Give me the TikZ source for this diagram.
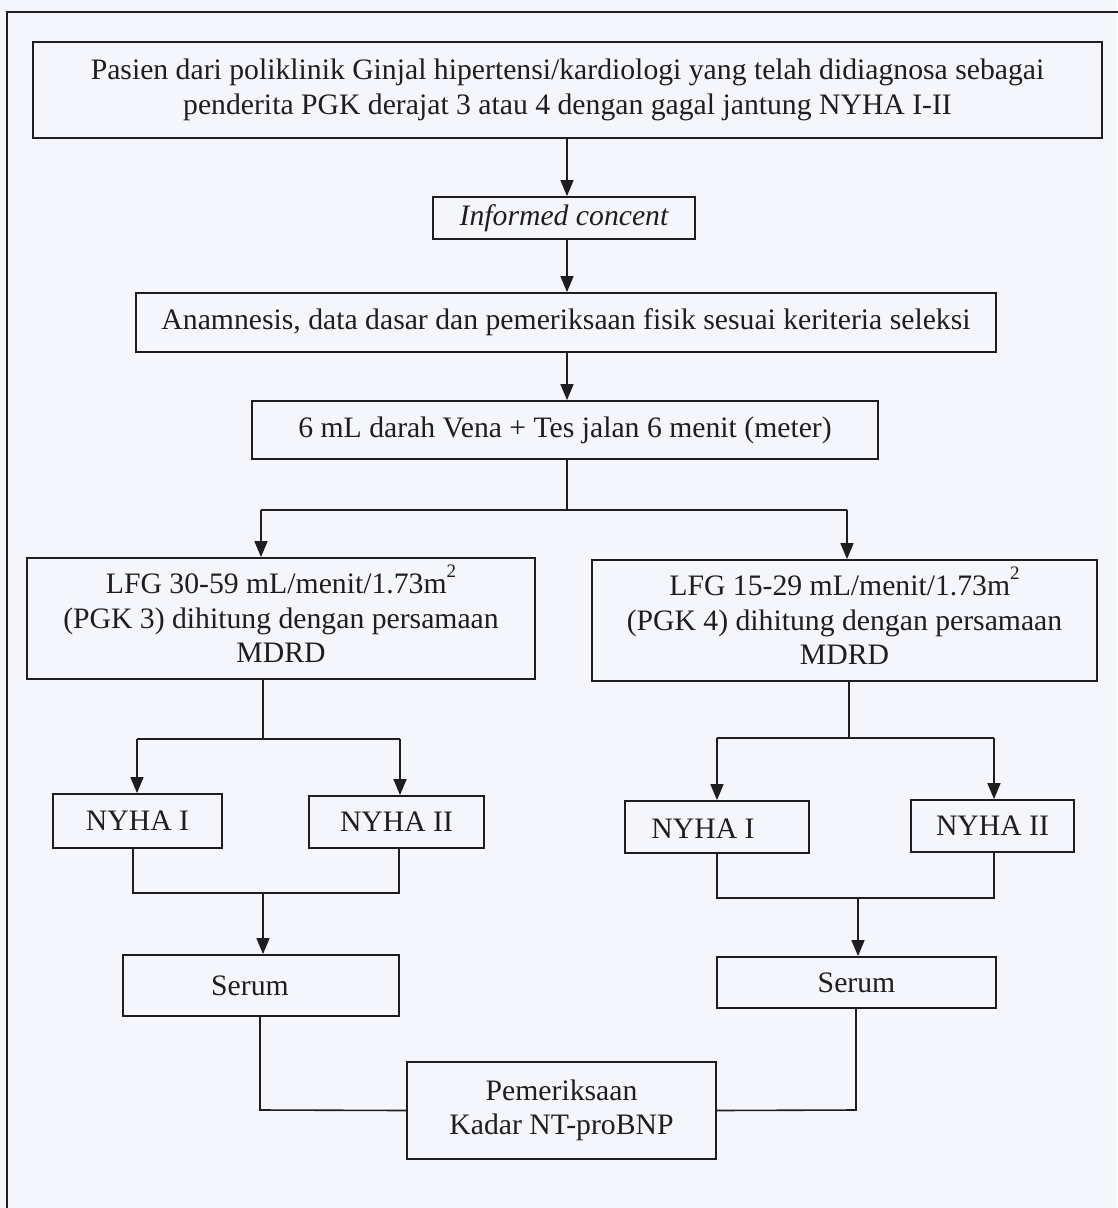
\documentclass[tikz,border=0pt]{standalone}
\usepackage{fontspec}
\setmainfont{Liberation Serif}
\usetikzlibrary{arrows.meta}
\definecolor{paper}{HTML}{F4F6FB}
\definecolor{ink}{HTML}{1E1E1E}
\newcommand{\sqm}{m\smash{\raisebox{0.55em}{\fontsize{19}{19}\selectfont 2}}}
\tikzset{
  box/.style={draw=ink, line width=1.8pt, inner sep=0pt, align=center, text=ink,
    font=\fontsize{29.7}{34.5}\selectfont},
  label text/.style={text=ink, font=\fontsize{29.7}{34.5}\selectfont},
  link/.style={draw=ink, line width=1.6pt},
  arr/.style={link, -{Triangle[length=16pt,width=13pt]}},
}
\begin{document}
\begin{tikzpicture}[x=1pt,y=-1pt]
\useasboundingbox (0,0) rectangle (1117,1208);
\fill[paper] (0,0) rectangle (1117,1208);
% page frame
\draw[ink, line width=2.2pt] (7,1210) -- (7,12) -- (1119,12);

% boxes
\node[box, minimum width=1069pt, minimum height=96pt] (b1) at (567.5,90)
  {Pasien dari poliklinik Ginjal hipertensi/kardiologi yang telah didiagnosa sebagai\\
   penderita PGK derajat 3 atau 4 dengan gagal jantung NYHA I-II};
\node[box, minimum width=262pt, minimum height=42pt] (ic) at (564,218) {\itshape Informed concent};
\node[box, minimum width=860pt, minimum height=59pt] (an) at (566,322.5)
  {Anamnesis, data dasar dan pemeriksaan fisik sesuai keriteria seleksi};
\node[box, minimum width=626pt, minimum height=58pt] (ml) at (565,430)
  {6 mL darah Vena + Tes jalan 6 menit (meter)};
\node[box, minimum width=508pt, minimum height=121pt] (lfgL) at (281,618.5)
  {LFG 30-59 mL/menit/1.73\sqm\\(PGK 3) dihitung dengan persamaan\\MDRD};
\node[box, minimum width=505pt, minimum height=121pt] (lfgR) at (844.5,620.5)
  {LFG 15-29 mL/menit/1.73\sqm\\(PGK 4) dihitung dengan persamaan\\MDRD};
\node[box, minimum width=169pt, minimum height=54pt] (nL1) at (137.5,821) {NYHA I};
\node[box, minimum width=175pt, minimum height=52pt] (nL2) at (396.5,822) {NYHA II};
\node[box, minimum width=184pt, minimum height=52pt] (nR1) at (717,827) {};
\node[label text] (nR1t) at (703,829) {NYHA I};
\node[box, minimum width=163pt, minimum height=52pt] (nR2) at (992.5,826) {NYHA II};
\node[box, minimum width=276pt, minimum height=61pt] (sL) at (261,985.5) {};
\node[label text] (sLt) at (250,986) {Serum};
\node[box, minimum width=279pt, minimum height=51pt] (sR) at (856.5,982.5) {Serum};
\node[box, minimum width=309pt, minimum height=97pt] (pem) at (561.5,1110.5)
  {Pemeriksaan\\Kadar NT-proBNP};

% main column
\coordinate (c) at (567,0);
\draw[arr] (b1.south -| c) -- (ic.north -| c);
\draw[arr] (ic.south -| c) -- (an.north -| c);
\draw[arr] (an.south -| c) -- (ml.north -| c);

% split by LFG
\coordinate (s1) at (567,510);
\coordinate (s1L) at (261,510);
\coordinate (s1R) at (847,510);
\draw[link] (ml.south -| c) -- (s1);
\draw[link] (s1L) -- (s1R);
\draw[arr] (s1L) -- (lfgL.north -| s1L);
\draw[arr] (s1R) -- (lfgR.north -| s1R);

% left branch: NYHA split and merge
\coordinate (l1) at (263,739);
\coordinate (l1a) at (137,739);
\coordinate (l1b) at (400,739);
\draw[link] (lfgL.south -| l1) -- (l1);
\draw[link] (l1a) -- (l1b);
\draw[arr] (l1a) -- (nL1.north -| l1a);
\draw[arr] (l1b) -- (nL2.north -| l1b);
\coordinate (m1a) at (133,893);
\coordinate (m1b) at (399,893);
\coordinate (m1) at (263,893);
\draw[link] (nL1.south -| m1a) -- (m1a) -- (m1b) -- (nL2.south -| m1b);
\draw[arr] (m1) -- (sL.north -| m1);

% right branch: NYHA split and merge
\coordinate (r1) at (849,738);
\coordinate (r1a) at (717,738);
\coordinate (r1b) at (994,738);
\draw[link] (lfgR.south -| r1) -- (r1);
\draw[link] (r1a) -- (r1b);
\draw[arr] (r1a) -- (nR1.north -| r1a);
\draw[arr] (r1b) -- (nR2.north -| r1b);
\coordinate (m2a) at (717,898);
\coordinate (m2b) at (994,898);
\coordinate (m2) at (858,898);
\draw[link] (nR1.south -| m2a) -- (m2a) -- (m2b) -- (nR2.south -| m2b);
\draw[arr] (m2) -- (sR.north -| m2);

% both sera to NT-proBNP
\coordinate (jL) at (260,1110);
\coordinate (jR) at (856,1110);
\draw[link] (sL.south -| jL) -- (jL) -- (pem.west);
\draw[link] (sR.south -| jR) -- (jR) -- (pem.east);
\end{tikzpicture}
\end{document}
